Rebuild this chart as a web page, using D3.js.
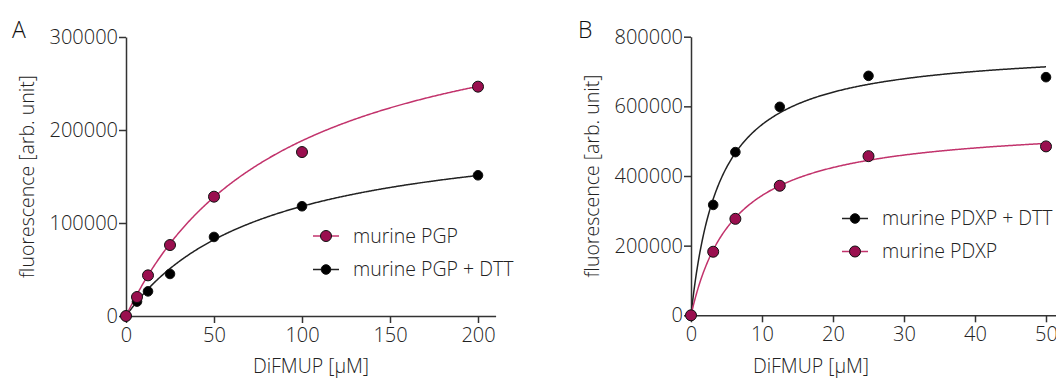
<!DOCTYPE html>
<html><head><meta charset="utf-8">
<script src="https://cdn.jsdelivr.net/npm/d3@7"></script>
<style>
html,body{margin:0;padding:0;background:#fff;}
svg{display:block;font-family:"Open Sans",sans-serif;font-weight:300;}
</style></head>
<body>
<svg id="chart" width="1056" height="379"></svg>
<script>
// ---- Data ----
const concA = [0, 6.25, 12.5, 25, 50, 100, 200];
const pgp = [0, 20400, 43700, 76300, 128300, 176300, 246600];
const pgpDTT = [0, 15500, 26500, 45200, 85000, 118000, 151300];
const fitPGP = {vmax: 358000, km: 90};
const fitPGPDTT = {vmax: 210000, km: 78};

const concB = [0, 3.125, 6.25, 12.5, 25, 50];
const pdxpDTT = [0, 317000, 468600, 598600, 687600, 683800];
const pdxp = [0, 182500, 277000, 372000, 457000, 485000];
const fitPDXPDTT = {vmax: 772000, km: 4.1};
const fitPDXP = {vmax: 553700, km: 6.1};

const ticksAx = [0, 50, 100, 150, 200];
const ticksAy = [0, 100000, 200000, 300000];
const ticksBx = [0, 10, 20, 30, 40, 50];
const ticksBy = [0, 200000, 400000, 600000, 800000];

const RED_FILL = "#9a0f4f", RED_LINE = "#c2336c", AXIS = "#333";

const svg = d3.select("#chart");

function panel(opts){
  const g = svg.append("g");
  const x = d3.scaleLinear().domain(opts.xDomain).range(opts.xRange);
  const y = d3.scaleLinear().domain(opts.yDomain).range(opts.yRange);

  const xa = g.append("g").attr("transform", `translate(0,${y(0)})`)
    .call(d3.axisBottom(x).tickValues(opts.xTicks).tickSize(7).tickSizeOuter(0).tickPadding(5).tickFormat(d3.format("d")));
  const ya = g.append("g").attr("transform", `translate(${x(0)},0)`)
    .call(d3.axisLeft(y).tickValues(opts.yTicks).tickSize(7).tickSizeOuter(0).tickPadding(1).tickFormat(d3.format("d")));
  [xa, ya].forEach(a => {
    a.selectAll("path,line").attr("stroke", AXIS).attr("stroke-width", 1.5);
    a.selectAll("text").attr("fill", "#222").style("font-size", "20px")
      .style("font-family", "'Open Sans',sans-serif").style("font-weight", 300);
  });

  g.append("text").attr("x", (opts.xRange[0] + opts.xLabelEnd) / 2).attr("y", 372.5)
    .attr("text-anchor", "middle").attr("fill", "#222").style("font-size", "19.5px").text("DiFMUP [µM]");
  g.append("text").attr("transform", `translate(${opts.yLabelX},${(y.range()[0] + y.range()[1]) / 2}) rotate(-90)`)
    .attr("text-anchor", "middle").attr("fill", "#222").style("font-size", "19.5px").text("fluorescence [arb. unit]");
  g.append("text").attr("x", opts.letterX).attr("y", 38).attr("fill", "#111").style("font-size", "23px").text(opts.letter);

  const line = d3.line().x(d => x(d[0])).y(d => y(d[1]));
  const xmax = d3.max(opts.conc);
  opts.series.forEach(s => {
    const pts = d3.range(0, 401).map(i => {
      const c = xmax * i / 400;
      return [c, s.fit.vmax * c / (s.fit.km + c)];
    });
    g.append("path").datum(pts).attr("d", line).attr("fill", "none")
      .attr("stroke", s.line).attr("stroke-width", 1.5);
  });
  opts.series.forEach(s => {
    g.selectAll(null).data(opts.conc.map((c, i) => [c, s.values[i]])).join("circle")
      .attr("cx", d => x(d[0])).attr("cy", d => y(d[1])).attr("r", s.r)
      .attr("fill", s.fill).attr("stroke", "#111").attr("stroke-width", 1);
  });

  // legend
  opts.legend.forEach((s, i) => {
    const ly = opts.legendY[i];
    g.append("line").attr("x1", opts.legendX).attr("x2", opts.legendX + 26).attr("y1", ly).attr("y2", ly)
      .attr("stroke", s.line).attr("stroke-width", 1.5);
    g.append("circle").attr("cx", opts.legendX + 13).attr("cy", ly).attr("r", s.r)
      .attr("fill", s.fill).attr("stroke", "#111").attr("stroke-width", 1);
    g.append("text").attr("x", opts.legendX + 40).attr("y", ly + 6.5).attr("fill", "#222")
      .style("font-size", "19.5px").text(s.name);
  });
}

const sPGP = {name: "murine PGP", values: pgp, fit: fitPGP, fill: RED_FILL, line: RED_LINE, r: 5.5};
const sPGPDTT = {name: "murine PGP + DTT", values: pgpDTT, fit: fitPGPDTT, fill: "#000", line: "#222", r: 4.8};
panel({
  xDomain: [0, 210], xRange: [126, 126 + 210 * 352 / 200], yDomain: [0, 300000], yRange: [316, 37],
  xTicks: ticksAx, yTicks: ticksAy, conc: concA, series: [sPGPDTT, sPGP],
  legend: [sPGP, sPGPDTT], legendX: 313, legendY: [236, 269.5],
  xLabelEnd: 496, yLabelX: 34, letter: "A", letterX: 12
});

const sPDXPDTT = {name: "murine PDXP + DTT", values: pdxpDTT, fit: fitPDXPDTT, fill: "#000", line: "#222", r: 4.8};
const sPDXP = {name: "murine PDXP", values: pdxp, fit: fitPDXP, fill: RED_FILL, line: RED_LINE, r: 5.5};
panel({
  xDomain: [0, 53], xRange: [691, 691 + 53 * 7.1], yDomain: [0, 800000], yRange: [315.3, 36.7],
  xTicks: ticksBx, yTicks: ticksBy, conc: concB, series: [sPDXPDTT, sPDXP],
  legend: [sPDXPDTT, sPDXP], legendX: 842, legendY: [218.5, 251.5],
  xLabelEnd: 931, yLabelX: 599, letter: "B", letterX: 578
});
</script>
</body></html>
